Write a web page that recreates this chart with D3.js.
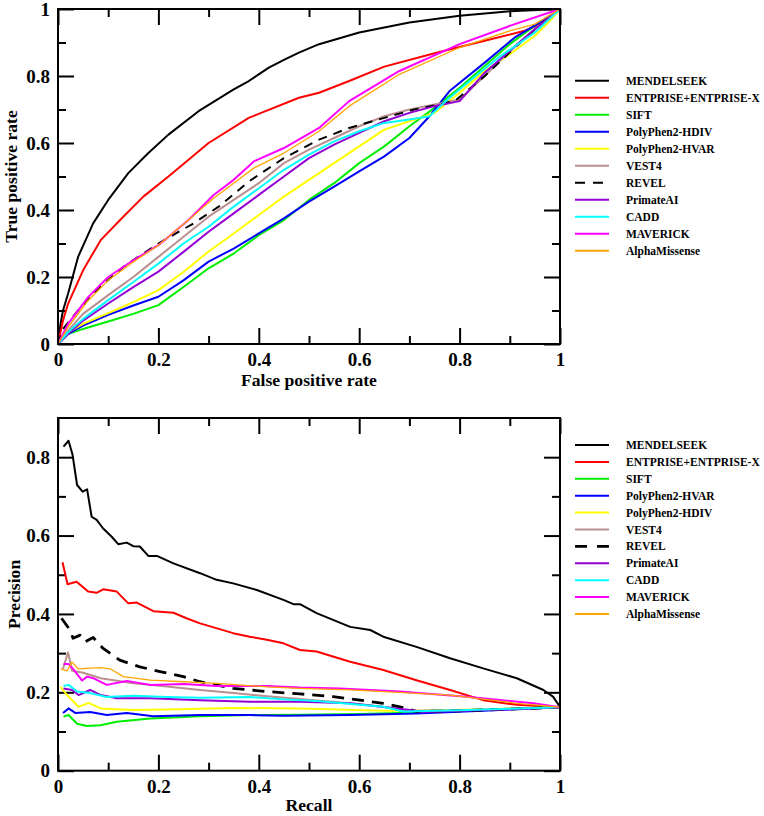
<!DOCTYPE html>
<html><head><meta charset="utf-8">
<script src="https://cdn.jsdelivr.net/npm/d3@7"></script>
<style>body{margin:0;background:#fff}svg{display:block}
svg text{font-family:"Liberation Serif","Times New Roman","DejaVu Serif",serif !important;font-weight:bold}</style>
</head><body>
<script>
// ---------- DATA ----------
const seriesNamesROC = ["MENDELSEEK","ENTPRISE+ENTPRISE-X","SIFT","PolyPhen2-HDIV","PolyPhen2-HVAR","VEST4","REVEL","PrimateAI","CADD","MAVERICK","AlphaMissense"];
const seriesNamesPR  = ["MENDELSEEK","ENTPRISE+ENTPRISE-X","SIFT","PolyPhen2-HVAR","PolyPhen2-HDIV","VEST4","REVEL","PrimateAI","CADD","MAVERICK","AlphaMissense"];

// ROC curves: [false positive rate, true positive rate]
const rocMENDELSEEK = [[0,0],[0.005,0.06],[0.01,0.1],[0.02,0.15],[0.04,0.26],[0.07,0.36],[0.1,0.43],[0.14,0.51],[0.18,0.57],[0.22,0.625],[0.28,0.695],[0.35,0.76],[0.38,0.785],[0.42,0.825],[0.45,0.848],[0.48,0.87],[0.52,0.895],[0.6,0.93],[0.7,0.96],[0.8,0.98],[0.9,0.993],[1,1]];
const rocENTPRISE = [[0,0],[0.01,0.07],[0.02,0.12],[0.05,0.22],[0.085,0.31],[0.13,0.38],[0.17,0.44],[0.22,0.5],[0.3,0.6],[0.38,0.675],[0.48,0.735],[0.52,0.75],[0.58,0.785],[0.65,0.828],[0.75,0.868],[0.85,0.905],[0.93,0.935],[0.97,0.962],[1,1]];
const rocSIFT = [[0,0],[0.02,0.03],[0.05,0.045],[0.1,0.067],[0.15,0.09],[0.2,0.116],[0.25,0.17],[0.3,0.226],[0.35,0.27],[0.4,0.325],[0.45,0.37],[0.5,0.43],[0.55,0.48],[0.6,0.54],[0.65,0.59],[0.7,0.65],[0.75,0.705],[0.8,0.765],[0.85,0.83],[0.9,0.895],[0.95,0.95],[1,1]];
const rocHDIV = [[0,0],[0.02,0.03],[0.05,0.055],[0.1,0.087],[0.15,0.115],[0.2,0.141],[0.25,0.19],[0.3,0.246],[0.35,0.285],[0.4,0.33],[0.45,0.375],[0.5,0.425],[0.55,0.47],[0.6,0.515],[0.65,0.56],[0.7,0.615],[0.74,0.68],[0.78,0.755],[0.85,0.84],[0.91,0.915],[0.96,0.96],[1,1]];
const rocHVAR = [[0,0],[0.02,0.035],[0.05,0.06],[0.1,0.092],[0.15,0.125],[0.2,0.161],[0.25,0.215],[0.3,0.276],[0.35,0.33],[0.4,0.385],[0.45,0.44],[0.5,0.49],[0.55,0.54],[0.6,0.59],[0.65,0.64],[0.7,0.665],[0.75,0.69],[0.8,0.75],[0.85,0.815],[0.9,0.865],[0.95,0.92],[0.98,0.965],[1,1]];
const rocVEST4 = [[0,0],[0.02,0.04],[0.05,0.09],[0.1,0.146],[0.15,0.2],[0.2,0.26],[0.25,0.32],[0.3,0.38],[0.35,0.43],[0.4,0.48],[0.45,0.54],[0.5,0.58],[0.55,0.615],[0.6,0.65],[0.65,0.68],[0.7,0.7],[0.75,0.715],[0.8,0.73],[0.85,0.8],[0.9,0.875],[0.95,0.94],[1,1]];
const rocREVEL = [[0,0],[0.01,0.045],[0.04,0.1],[0.08,0.165],[0.13,0.23],[0.2,0.3],[0.27,0.36],[0.32,0.41],[0.38,0.485],[0.45,0.555],[0.52,0.61],[0.58,0.645],[0.65,0.675],[0.71,0.7],[0.79,0.725],[0.85,0.8],[0.91,0.885],[0.97,0.965],[1,1]];
const rocPrimateAI = [[0,0],[0.02,0.03],[0.05,0.07],[0.1,0.121],[0.15,0.17],[0.2,0.216],[0.25,0.275],[0.3,0.335],[0.35,0.39],[0.4,0.445],[0.45,0.5],[0.5,0.555],[0.55,0.595],[0.6,0.63],[0.65,0.665],[0.7,0.69],[0.75,0.71],[0.8,0.725],[0.85,0.81],[0.9,0.875],[0.95,0.94],[1,1]];
const rocCADD = [[0,0],[0.02,0.035],[0.05,0.075],[0.1,0.131],[0.15,0.185],[0.2,0.24],[0.25,0.3],[0.3,0.35],[0.35,0.41],[0.4,0.465],[0.45,0.52],[0.5,0.565],[0.55,0.605],[0.6,0.635],[0.65,0.66],[0.7,0.67],[0.74,0.68],[0.78,0.735],[0.82,0.785],[0.88,0.858],[0.95,0.93],[1,1]];
const rocMAVERICK = [[0,0],[0.02,0.06],[0.06,0.14],[0.1,0.2],[0.15,0.25],[0.2,0.295],[0.26,0.37],[0.31,0.445],[0.35,0.49],[0.39,0.545],[0.45,0.585],[0.52,0.645],[0.58,0.725],[0.68,0.815],[0.8,0.895],[0.91,0.955],[1,1]];
const rocAlphaMissense = [[0,0],[0.02,0.05],[0.06,0.13],[0.1,0.19],[0.15,0.245],[0.2,0.295],[0.26,0.37],[0.31,0.435],[0.35,0.48],[0.39,0.525],[0.45,0.57],[0.52,0.635],[0.58,0.71],[0.68,0.805],[0.8,0.885],[0.9,0.935],[0.95,0.955],[1,1]];

// PR curves: [recall, precision]
const prMENDELSEEK = [[0.011,0.827],[0.021,0.842],[0.029,0.806],[0.038,0.729],[0.049,0.712],[0.058,0.718],[0.067,0.648],[0.077,0.64],[0.09,0.618],[0.107,0.597],[0.12,0.578],[0.137,0.582],[0.15,0.573],[0.163,0.572],[0.18,0.548],[0.197,0.548],[0.23,0.529],[0.283,0.504],[0.316,0.487],[0.349,0.478],[0.396,0.461],[0.449,0.436],[0.469,0.425],[0.482,0.425],[0.515,0.402],[0.582,0.367],[0.622,0.359],[0.648,0.342],[0.714,0.316],[0.781,0.287],[0.847,0.261],[0.914,0.236],[0.967,0.206],[0.986,0.189],[1,0.163]];
const prENTPRISE = [[0.009,0.532],[0.019,0.476],[0.037,0.482],[0.06,0.457],[0.077,0.454],[0.09,0.463],[0.117,0.457],[0.14,0.427],[0.157,0.429],[0.19,0.407],[0.23,0.403],[0.256,0.389],[0.283,0.376],[0.349,0.351],[0.382,0.342],[0.416,0.334],[0.449,0.325],[0.482,0.308],[0.515,0.304],[0.582,0.278],[0.648,0.257],[0.714,0.231],[0.781,0.206],[0.847,0.18],[0.914,0.168],[1,0.162]];
const prSIFT = [[0.011,0.138],[0.021,0.142],[0.038,0.12],[0.058,0.114],[0.085,0.116],[0.117,0.125],[0.184,0.133],[0.283,0.139],[0.382,0.142],[0.482,0.143],[0.6,0.145],[0.7,0.148],[0.8,0.153],[0.9,0.158],[1,0.162]];
const prHVAR = [[0.01,0.147],[0.021,0.159],[0.035,0.147],[0.064,0.15],[0.097,0.142],[0.137,0.147],[0.19,0.139],[0.283,0.142],[0.382,0.142],[0.449,0.14],[0.582,0.142],[0.714,0.146],[0.847,0.153],[1,0.162]];
const prHDIV = [[0.005,0.214],[0.018,0.193],[0.041,0.163],[0.061,0.173],[0.085,0.159],[0.15,0.155],[0.217,0.156],[0.349,0.16],[0.482,0.159],[0.648,0.153],[0.714,0.153],[0.85,0.157],[1,0.162]];
const prVEST4 = [[0.01,0.26],[0.02,0.302],[0.028,0.255],[0.05,0.25],[0.085,0.236],[0.15,0.223],[0.217,0.215],[0.283,0.206],[0.35,0.198],[0.416,0.19],[0.482,0.183],[0.582,0.172],[0.648,0.163],[0.7,0.153],[0.8,0.154],[0.9,0.158],[1,0.162]];
const prREVEL = [[0.007,0.389],[0.024,0.359],[0.03,0.338],[0.044,0.346],[0.054,0.329],[0.07,0.34],[0.09,0.312],[0.123,0.282],[0.163,0.265],[0.203,0.253],[0.25,0.24],[0.283,0.227],[0.349,0.21],[0.416,0.202],[0.482,0.196],[0.548,0.189],[0.648,0.172],[0.694,0.159],[0.714,0.151],[0.8,0.153],[0.9,0.157],[1,0.162]];
const prPrimateAI = [[0.011,0.21],[0.028,0.206],[0.041,0.193],[0.064,0.206],[0.085,0.193],[0.117,0.185],[0.184,0.185],[0.283,0.18],[0.382,0.176],[0.482,0.176],[0.582,0.172],[0.701,0.155],[0.727,0.15],[0.8,0.153],[0.9,0.157],[1,0.162]];
const prCADD = [[0.011,0.216],[0.021,0.219],[0.038,0.202],[0.064,0.198],[0.097,0.188],[0.15,0.191],[0.217,0.188],[0.283,0.186],[0.382,0.188],[0.45,0.182],[0.515,0.178],[0.648,0.163],[0.688,0.151],[0.8,0.154],[0.9,0.158],[1,0.162]];
const prMAVERICK = [[0.011,0.272],[0.021,0.272],[0.03,0.26],[0.048,0.23],[0.058,0.24],[0.07,0.236],[0.097,0.219],[0.137,0.229],[0.184,0.219],[0.25,0.221],[0.317,0.216],[0.416,0.216],[0.482,0.212],[0.562,0.21],[0.681,0.202],[0.814,0.189],[0.947,0.172],[1,0.162]];
const prAlphaMissense = [[0.005,0.26],[0.018,0.255],[0.028,0.277],[0.04,0.26],[0.084,0.263],[0.104,0.26],[0.13,0.24],[0.184,0.231],[0.25,0.227],[0.317,0.223],[0.416,0.214],[0.482,0.21],[0.582,0.206],[0.781,0.193],[0.914,0.172],[1,0.162]];

const rocSeries = [rocMENDELSEEK,rocENTPRISE,rocSIFT,rocHDIV,rocHVAR,rocVEST4,rocREVEL,rocPrimateAI,rocCADD,rocMAVERICK,rocAlphaMissense];
const prSeries  = [prMENDELSEEK,prENTPRISE,prSIFT,prHVAR,prHDIV,prVEST4,prREVEL,prPrimateAI,prCADD,prMAVERICK,prAlphaMissense];

const xTickLabels = [0,0.2,0.4,0.6,0.8,1];
const rocYTickLabels = [0,0.2,0.4,0.6,0.8,1];
const prYTickLabels = [0,0.2,0.4,0.6,0.8];

// ---------- STYLES ----------
const rocColors = ["#000000","#ff0000","#00ee00","#0000ff","#ffff00","#bc8f8f","#000000","#9400d3","#00ffff","#ff00ff","#ffa500"];
const prColors  = ["#000000","#ff0000","#00ee00","#0000ff","#ffff00","#bc8f8f","#000000","#9400d3","#00ffff","#ff00ff","#ffa500"];
const dashedIndex = 6;

// ---------- DRAW ----------
const W = 764, H = 816;
const svg = d3.select("body").append("svg").attr("width", W).attr("height", H);
const fmt = d => d === 0 ? "0" : d === 1 ? "1" : d.toFixed(1);

function panel(cfg) {
  const x = d3.scaleLinear().domain([0,1]).range([cfg.left, cfg.right]);
  const y = d3.scaleLinear().domain([0, cfg.ymax]).range([cfg.bottom, cfg.top]);
  const g = svg.append("g");
  const minorX = d3.range(1,10,2).map(i => i/10);
  const minorY = cfg.minorY;

  const styleAxis = sel => {
    sel.attr("font-family", null);
    sel.select(".domain").remove();
    sel.selectAll(".tick line").attr("stroke","#000").attr("stroke-width",2);
    sel.selectAll("text").style("font-size","19px").attr("fill","#000");
  };
  g.append("g").attr("transform",`translate(0,${cfg.bottom})`)
    .call(d3.axisBottom(x).tickValues(xTickLabels).tickFormat(fmt).tickSize(-16).tickPadding(9)).call(styleAxis);
  g.append("g").attr("transform",`translate(0,${cfg.bottom})`)
    .call(d3.axisBottom(x).tickValues(minorX).tickFormat("").tickSize(-8)).call(styleAxis);
  g.append("g").attr("transform",`translate(0,${cfg.top})`)
    .call(d3.axisTop(x).tickValues(xTickLabels).tickFormat("").tickSize(-16)).call(styleAxis);
  g.append("g").attr("transform",`translate(0,${cfg.top})`)
    .call(d3.axisTop(x).tickValues(minorX).tickFormat("").tickSize(-8)).call(styleAxis);
  g.append("g").attr("transform",`translate(${cfg.left},0)`)
    .call(d3.axisLeft(y).tickValues(cfg.yTicks).tickFormat(fmt).tickSize(-16).tickPadding(8)).call(styleAxis);
  g.append("g").attr("transform",`translate(${cfg.left},0)`)
    .call(d3.axisLeft(y).tickValues(minorY).tickFormat("").tickSize(-8)).call(styleAxis);
  g.append("g").attr("transform",`translate(${cfg.right},0)`)
    .call(d3.axisRight(y).tickValues(cfg.yTicks).tickFormat("").tickSize(-16)).call(styleAxis);
  g.append("g").attr("transform",`translate(${cfg.right},0)`)
    .call(d3.axisRight(y).tickValues(minorY).tickFormat("").tickSize(-8)).call(styleAxis);

  const line = d3.line().x(d => x(d[0])).y(d => y(d[1]));
  cfg.series.forEach((s, i) => {
    g.append("path").datum(s).attr("d", line).attr("fill","none")
      .attr("stroke", cfg.colors[i])
      .attr("stroke-width", i === 10 ? 1.3 : (i === dashedIndex ? cfg.dashW : 2))
      .attr("stroke-dasharray", i === dashedIndex ? cfg.dash : null)
      .attr("stroke-linejoin","round");
  });

  g.append("rect").attr("x",cfg.left).attr("y",cfg.top)
    .attr("width",cfg.right-cfg.left).attr("height",cfg.bottom-cfg.top)
    .attr("fill","none").attr("stroke","#000").attr("stroke-width",2);

  g.append("text").attr("x",(cfg.left+cfg.right)/2).attr("y",cfg.xTitleY)
    .attr("text-anchor","middle").style("font-size","17.6px").text(cfg.xTitle);
  g.append("text").attr("transform",`translate(${cfg.yTitleX},${(cfg.top+cfg.bottom)/2}) rotate(-90)`)
    .attr("text-anchor","middle").style("font-size","17.6px").text(cfg.yTitle);

  cfg.names.forEach((n, i) => {
    const ly = cfg.legendTop + i*cfg.legendStep;
    g.append("line").attr("x1",575).attr("x2",609).attr("y1",ly).attr("y2",ly)
      .attr("stroke",cfg.colors[i]).attr("stroke-width", i === dashedIndex ? cfg.dashW : 2)
      .attr("stroke-dasharray", i === dashedIndex ? cfg.legendDash : null);
    g.append("text").attr("x",626).attr("y",ly+4).style("font-size","11.5px").text(n);
  });
}

panel({left:58,right:560,top:9,bottom:344,ymax:1,yTicks:rocYTickLabels,minorY:d3.range(1,10,2).map(i=>i/10),
  series:rocSeries,colors:rocColors,names:seriesNamesROC,dash:"9,7",legendDash:"10,8",dashW:2,
  xTitle:"False positive rate",yTitle:"True positive rate",xTitleY:386,yTitleX:17,legendTop:80.7,legendStep:17});
panel({left:58,right:560,top:418,bottom:770.7,ymax:0.9,yTicks:prYTickLabels,minorY:[0.1,0.3,0.5,0.7],
  series:prSeries,colors:prColors,names:seriesNamesPR,dash:"12,8",legendDash:"12,10",dashW:2.8,
  xTitle:"Recall",yTitle:"Precision",xTitleY:811,yTitleX:20,legendTop:445,legendStep:16.9});
</script>
</body></html>
